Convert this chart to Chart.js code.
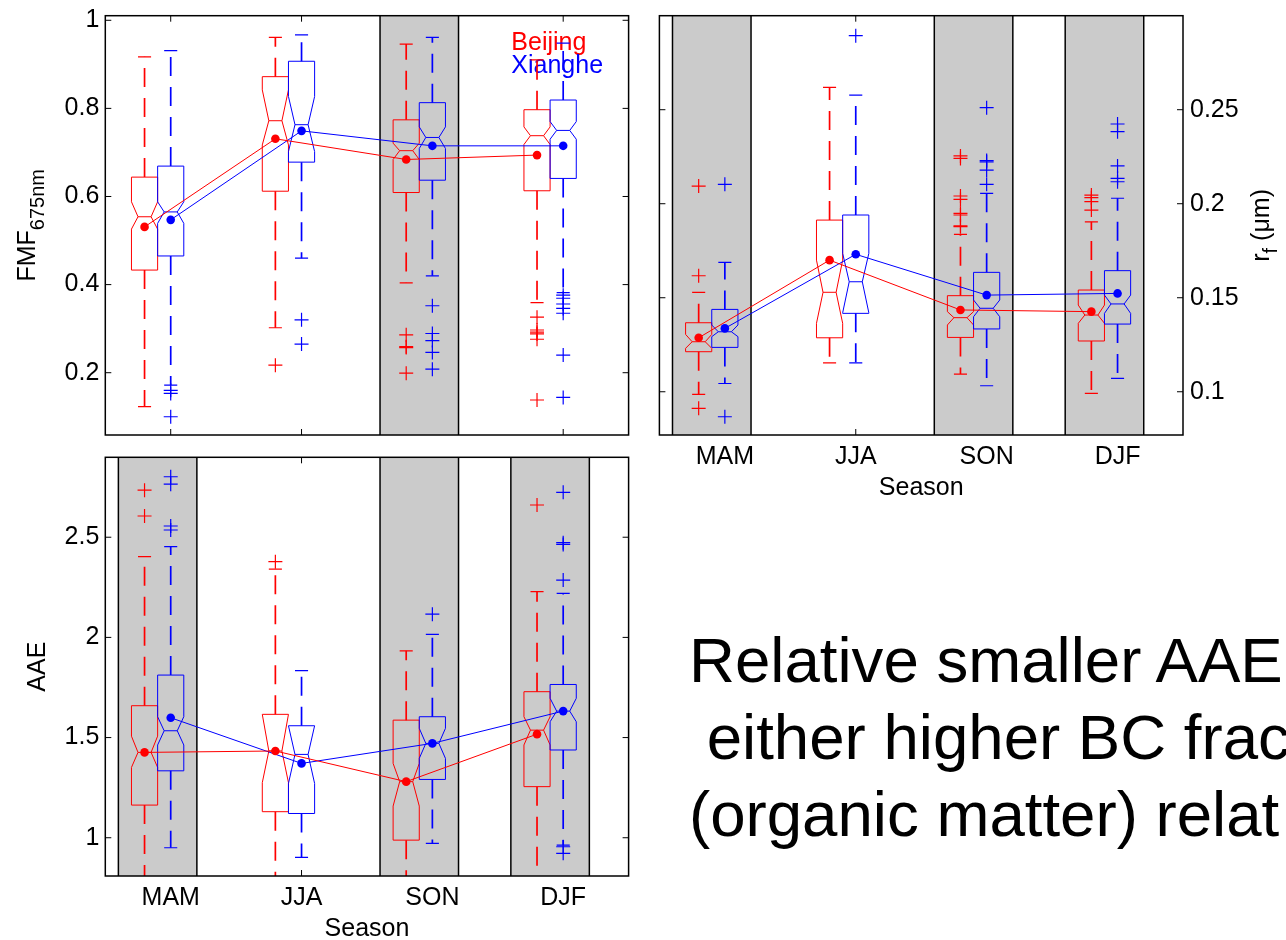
<!DOCTYPE html>
<html>
<head>
<meta charset="utf-8">
<script src="https://cdn.jsdelivr.net/npm/chart.js@4.4.1/dist/chart.umd.min.js"></script>
<style>
html, body { margin: 0; padding: 0; width: 1286px; height: 940px; overflow: hidden; background: #fff; }
canvas { position: absolute; }
#note { position: absolute; left: 689px; top: 621px; font: 63.6px/77px "Liberation Sans", Arial, sans-serif; white-space: pre; color: #000; }
</style>
</head>
<body>
<canvas id="fmfChart" width="640" height="445" style="left:0;top:0"></canvas>
<canvas id="rfChart" width="646" height="510" style="left:640px;top:0"></canvas>
<canvas id="aaeChart" width="640" height="510" style="left:0;top:440px"></canvas>
<div id="note">Relative smaller AAE
 either higher BC frac
(organic matter) relat</div>
<script>
const seasons = ['MAM', 'JJA', 'SON', 'DJF'];
const cities = ['Beijing', 'Xianghe'];

// box stats per season: [whisker low, q1, notch low, median, notch high, q3, whisker high]
// FMF 675nm
const fmfBeijing = [
    [0.123, 0.433, 0.526, 0.554, 0.588, 0.644, 0.917],
    [0.302, 0.612, 0.717, 0.772, 0.842, 0.872, 0.961],
    [0.404, 0.609, 0.684, 0.704, 0.721, 0.774, 0.946],
    [0.359, 0.613, 0.718, 0.738, 0.758, 0.797, 0.910]
];
const fmfXianghe = [
    [0.172, 0.465, 0.539, 0.565, 0.588, 0.669, 0.931],
    [0.460, 0.678, 0.702, 0.763, 0.827, 0.907, 0.967],
    [0.420, 0.637, 0.709, 0.734, 0.758, 0.813, 0.961],
    [0.382, 0.641, 0.730, 0.750, 0.770, 0.819, 0.948]
];
const fmfBeijingMean = [0.531, 0.731, 0.684, 0.694];
const fmfXiangheMean = [0.547, 0.749, 0.715, 0.715];
const fmfBeijingOut = [[], [0.217], [0.286, 0.259, 0.257, 0.199], [0.326, 0.297, 0.292, 0.288, 0.276, 0.138]];
const fmfXiangheOut = [[0.160, 0.153, 0.100], [0.320, 0.265], [0.352, 0.289, 0.273, 0.246, 0.208], [0.376, 0.369, 0.356, 0.346, 0.335, 0.240, 0.144]];
const fmfTicks = [0.2, 0.4, 0.6, 0.8, 1];
const fmfShaded = ['SON'];

// r_f (um)
const rfBeijing = [
    [0.0986, 0.1213, 0.1231, 0.1266, 0.1305, 0.1367, 0.1529],
    [0.1154, 0.1287, 0.1364, 0.1529, 0.1700, 0.1913, 0.2619],
    [0.1094, 0.1289, 0.1355, 0.1394, 0.1426, 0.1511, 0.1837],
    [0.0991, 0.1270, 0.1364, 0.1408, 0.1461, 0.1541, 0.1904]
];
const rfXianghe = [
    [0.1044, 0.1236, 0.1293, 0.1319, 0.1355, 0.1438, 0.1688],
    [0.1154, 0.1417, 0.1420, 0.1585, 0.1736, 0.1940, 0.2578],
    [0.1032, 0.1334, 0.1399, 0.1444, 0.1488, 0.1635, 0.2055],
    [0.1071, 0.1360, 0.1417, 0.1467, 0.1514, 0.1644, 0.2029]
];
const rfBeijingMean = [0.1287, 0.1700, 0.1435, 0.1426];
const rfXiangheMean = [0.1337, 0.1731, 0.1514, 0.1523];
const rfBeijingOut = [[0.1617, 0.2094, 0.0912], [], [0.1878, 0.1883, 0.1940, 0.1949, 0.2023, 0.2041, 0.2241, 0.2254], [0.1966, 0.2011, 0.2032, 0.2046]];
const rfXiangheOut = [[0.2103, 0.0867], [0.2894], [0.2103, 0.2179, 0.2223, 0.2230, 0.2511], [0.2117, 0.2135, 0.2201, 0.2383, 0.2424]];
const rfTicks = [0.1, 0.15, 0.2, 0.25];
const rfShaded = ['MAM', 'SON', 'DJF'];

// AAE
const aaeBeijing = [
    [0.70, 1.163, 1.351, 1.426, 1.507, 1.659, 2.403],
    [0.70, 1.130, 1.275, 1.433, 1.616, 1.616, 2.341],
    [0.70, 0.988, 1.158, 1.280, 1.371, 1.587, 1.933],
    [0.70, 1.255, 1.463, 1.537, 1.604, 1.729, 2.228]
];
const aaeXianghe = [
    [0.950, 1.334, 1.463, 1.534, 1.604, 1.812, 2.453],
    [0.902, 1.121, 1.271, 1.416, 1.559, 1.559, 1.834],
    [0.972, 1.291, 1.396, 1.471, 1.546, 1.604, 2.015],
    [0.963, 1.438, 1.579, 1.632, 1.696, 1.765, 2.220]
];
const aaeBeijingMean = [1.426, 1.433, 1.280, 1.517];
const aaeXiangheMean = [1.599, 1.371, 1.471, 1.632];
const aaeBeijingOut = [[2.606, 2.735], [2.378], [], [2.661]];
const aaeXiangheOut = [[2.536, 2.556, 2.765, 2.802], [], [2.116], [2.286, 2.464, 2.473, 2.724, 0.955, 0.922]];
const aaeTicks = [1, 1.5, 2, 2.5];
const aaeShaded = ['MAM', 'SON', 'DJF'];

const FONT = '"Liberation Sans", Arial, Helvetica, sans-serif';
const CITY_COLOR = ['#ff0000', '#0000ff'];
const CITY_OFFSET = [-0.2, 0];   // Beijing sits left of the tick, Xianghe on it
const BOX_W = 0.2;
const SHADE = '#cbcbcb';
const TICK = 6;

Chart.defaults.font.family = FONT;
Chart.defaults.color = '#000';

const drawBox = (ctx, x, y, pos, s, color) => {
    const [lo, q1, nlo, med, nhi, q3, hi] = s;
    const xl = x.getPixelForValue(pos - BOX_W / 2);
    const xr = x.getPixelForValue(pos + BOX_W / 2);
    const xc = x.getPixelForValue(pos);
    const inset = (xr - xl) / 4;
    const Y = v => y.getPixelForValue(v);
    ctx.strokeStyle = color;

    // whiskers, dashed from the box outwards
    ctx.lineWidth = 1.7;
    ctx.setLineDash([19, 11]);
    ctx.beginPath(); ctx.moveTo(xc, Y(q3)); ctx.lineTo(xc, Y(hi)); ctx.stroke();
    ctx.beginPath(); ctx.moveTo(xc, Y(q1)); ctx.lineTo(xc, Y(lo)); ctx.stroke();
    ctx.setLineDash([]);

    ctx.lineWidth = 1.2;
    ctx.beginPath();
    ctx.moveTo(xc - inset, Y(hi)); ctx.lineTo(xc + inset, Y(hi));
    ctx.moveTo(xc - inset, Y(lo)); ctx.lineTo(xc + inset, Y(lo));
    ctx.stroke();

    // notched box
    ctx.lineWidth = 1;
    ctx.beginPath();
    ctx.moveTo(xl, Y(q1)); ctx.lineTo(xl, Y(nlo)); ctx.lineTo(xl + inset, Y(med)); ctx.lineTo(xl, Y(nhi)); ctx.lineTo(xl, Y(q3));
    ctx.lineTo(xr, Y(q3)); ctx.lineTo(xr, Y(nhi)); ctx.lineTo(xr - inset, Y(med)); ctx.lineTo(xr, Y(nlo)); ctx.lineTo(xr, Y(q1));
    ctx.closePath();
    ctx.stroke();
    ctx.beginPath(); ctx.moveTo(xl + inset, Y(med)); ctx.lineTo(xr - inset, Y(med)); ctx.stroke();
};

// rotated label, parts = [text, size, shift below baseline]
const drawYTitle = (ctx, parts, bx, cy) => {
    ctx.save();
    ctx.translate(bx, cy);
    ctx.rotate(-Math.PI / 2);
    let total = 0;
    parts.forEach(([t, size]) => { ctx.font = `${size}px ${FONT}`; total += ctx.measureText(t).width; });
    let u = -total / 2;
    ctx.fillStyle = '#000';
    ctx.textAlign = 'left';
    ctx.textBaseline = 'alphabetic';
    parts.forEach(([t, size, shift]) => {
        ctx.font = `${size}px ${FONT}`;
        ctx.fillText(t, u, shift);
        u += ctx.measureText(t).width;
    });
    ctx.restore();
};

const boxPlugin = {
    id: 'boxes',
    beforeDraw(chart) {
        const { ctx, chartArea: a } = chart;
        ctx.save();
        ctx.fillStyle = '#fff';
        ctx.fillRect(a.left, a.top, a.width, a.height);
        ctx.restore();
    },
    beforeDatasetsDraw(chart, args, o) {
        const { ctx, chartArea: a, scales: { x, y } } = chart;
        ctx.save();
        ctx.beginPath();
        ctx.rect(a.left, a.top, a.width, a.height);
        ctx.clip();

        // inward ticks on all four sides
        ctx.strokeStyle = '#000';
        ctx.lineWidth = 1;
        ctx.beginPath();
        x.ticks.forEach(t => {
            const p = x.getPixelForValue(t.value);
            ctx.moveTo(p, a.top); ctx.lineTo(p, a.top + TICK);
            ctx.moveTo(p, a.bottom); ctx.lineTo(p, a.bottom - TICK);
        });
        y.ticks.forEach(t => {
            const p = y.getPixelForValue(t.value);
            ctx.moveTo(a.left, p); ctx.lineTo(a.left + TICK, p);
            ctx.moveTo(a.right, p); ctx.lineTo(a.right - TICK, p);
        });
        ctx.stroke();

        o.shaded.forEach(name => {
            const k = seasons.indexOf(name) + 1;
            const x0 = x.getPixelForValue(k - 0.4);
            const x1 = x.getPixelForValue(k + 0.2);
            ctx.fillStyle = SHADE;
            ctx.fillRect(x0, a.top, x1 - x0, a.height);
            ctx.strokeStyle = '#000';
            ctx.lineWidth = 1.5;
            ctx.beginPath();
            ctx.moveTo(x0, a.top); ctx.lineTo(x0, a.bottom);
            ctx.moveTo(x1, a.top); ctx.lineTo(x1, a.bottom);
            ctx.stroke();
        });

        if (o.legend) {
            ctx.font = `25px ${FONT}`;
            ctx.textAlign = 'left';
            ctx.textBaseline = 'alphabetic';
            cities.forEach((c, i) => {
                ctx.fillStyle = CITY_COLOR[i];
                ctx.fillText(c, a.left + 406, a.top + 34.5 + i * 23);
            });
        }

        o.stats.forEach((list, c) => {
            list.forEach((s, k) => drawBox(ctx, x, y, k + 1 + CITY_OFFSET[c], s, CITY_COLOR[c]));
        });
        ctx.restore();
    },
    afterDatasetsDraw(chart, args, o) {
        const { ctx, chartArea: a } = chart;
        ctx.save();
        ctx.strokeStyle = '#000';
        ctx.lineWidth = 1.5;
        ctx.strokeRect(a.left, a.top, a.width, a.height);
        ctx.restore();
        const bx = o.titleSide === 'left' ? a.left - o.titleGap : a.right + o.titleGap;
        drawYTitle(ctx, o.yTitle, bx, (a.top + a.bottom) / 2);
    }
};

const meanSet = (means, c) => ({
    type: 'line',
    label: cities[c] + ' mean',
    data: means.map((v, k) => ({ x: k + 1 + CITY_OFFSET[c], y: v })),
    borderColor: CITY_COLOR[c],
    backgroundColor: CITY_COLOR[c],
    borderWidth: 1,
    pointRadius: 4.3,
    pointBorderWidth: 0,
    pointHoverRadius: 0,
    tension: 0
});

const outlierSet = (outs, c) => ({
    type: 'scatter',
    label: cities[c] + ' outliers',
    data: outs.flatMap((list, k) => list.map(v => ({ x: k + 1 + CITY_OFFSET[c], y: v }))),
    pointStyle: 'cross',
    pointRadius: 7,
    pointHoverRadius: 7,
    borderColor: CITY_COLOR[c],
    borderWidth: 1.2,
    showLine: false
});

const makeChart = (id, p) => new Chart(document.getElementById(id), {
    type: 'scatter',
    data: {
        datasets: [
            meanSet(p.means[0], 0), meanSet(p.means[1], 1),
            outlierSet(p.outs[0], 0), outlierSet(p.outs[1], 1)
        ]
    },
    options: {
        responsive: false,
        animation: false,
        devicePixelRatio: 1,
        layout: { padding: p.padding },
        plugins: {
            legend: { display: false },
            tooltip: { enabled: false },
            boxes: { stats: p.stats, shaded: p.shaded, legend: p.legend, yTitle: p.yTitle, titleSide: p.yPos, titleGap: p.titleGap }
        },
        scales: {
            x: {
                type: 'linear', min: 0.5, max: 4.5, bounds: 'data',
                grid: { display: false, drawTicks: false },
                border: { display: false },
                afterBuildTicks: s => { s.ticks = seasons.map((n, k) => ({ value: k + 1 })); },
                ticks: { display: p.xLabels, padding: 7.5, autoSkip: false, maxRotation: 0, font: { size: 25 }, callback: v => seasons[v - 1] },
                title: { display: p.xLabels, text: 'Season', padding: 0, font: { size: 25 } },
                afterFit: s => { s.height = p.xHeight; s.paddingLeft = 0; s.paddingRight = 0; }
            },
            y: {
                type: 'linear', position: p.yPos, min: p.yMin, max: p.yMax, bounds: 'data',
                grid: { display: false, drawTicks: false },
                border: { display: false },
                afterBuildTicks: s => { s.ticks = p.yTicks.map(v => ({ value: v })); },
                ticks: { padding: p.yPos === 'left' ? 6 : 7, font: { size: 25 }, callback: v => String(v) },
                afterFit: s => { s.width = p.yWidth; s.paddingTop = 0; s.paddingBottom = 0; }
            }
        }
    },
    plugins: [boxPlugin]
});

makeChart('fmfChart', {
    stats: [fmfBeijing, fmfXianghe], means: [fmfBeijingMean, fmfXiangheMean], outs: [fmfBeijingOut, fmfXiangheOut],
    yTicks: fmfTicks, shaded: fmfShaded, yMin: 0.0586, yMax: 1.0104,
    yPos: 'left', yWidth: 105.3, xHeight: 10, xLabels: false, legend: true,
    padding: { left: 0, top: 15.7, right: 11.4, bottom: 0 },
    yTitle: [['FMF', 25, 0], ['675nm', 20, 9]], titleGap: 70.6
});

makeChart('rfChart', {
    stats: [rfBeijing, rfXianghe], means: [rfBeijingMean, rfXiangheMean], outs: [rfBeijingOut, rfXiangheOut],
    yTicks: rfTicks, shaded: rfShaded, yMin: 0.077, yMax: 0.300,
    yPos: 'right', yWidth: 103, xHeight: 68.5, xLabels: true, legend: false,
    padding: { left: 19.4, top: 15.7, right: 0, bottom: 6.5 },
    yTitle: [['r', 25, 0], ['f', 20, 8], [' (\u03bcm)', 25, 0]], titleGap: 86
});

makeChart('aaeChart', {
    stats: [aaeBeijing, aaeXianghe], means: [aaeBeijingMean, aaeXiangheMean], outs: [aaeBeijingOut, aaeXiangheOut],
    yTicks: aaeTicks, shaded: aaeShaded, yMin: 0.809, yMax: 2.899,
    yPos: 'left', yWidth: 105.3, xHeight: 68.3, xLabels: true, legend: false,
    padding: { left: 0, top: 17.3, right: 11.4, bottom: 5.7 },
    yTitle: [['AAE', 25, 0]], titleGap: 60.5
});
</script>
</body>
</html>
